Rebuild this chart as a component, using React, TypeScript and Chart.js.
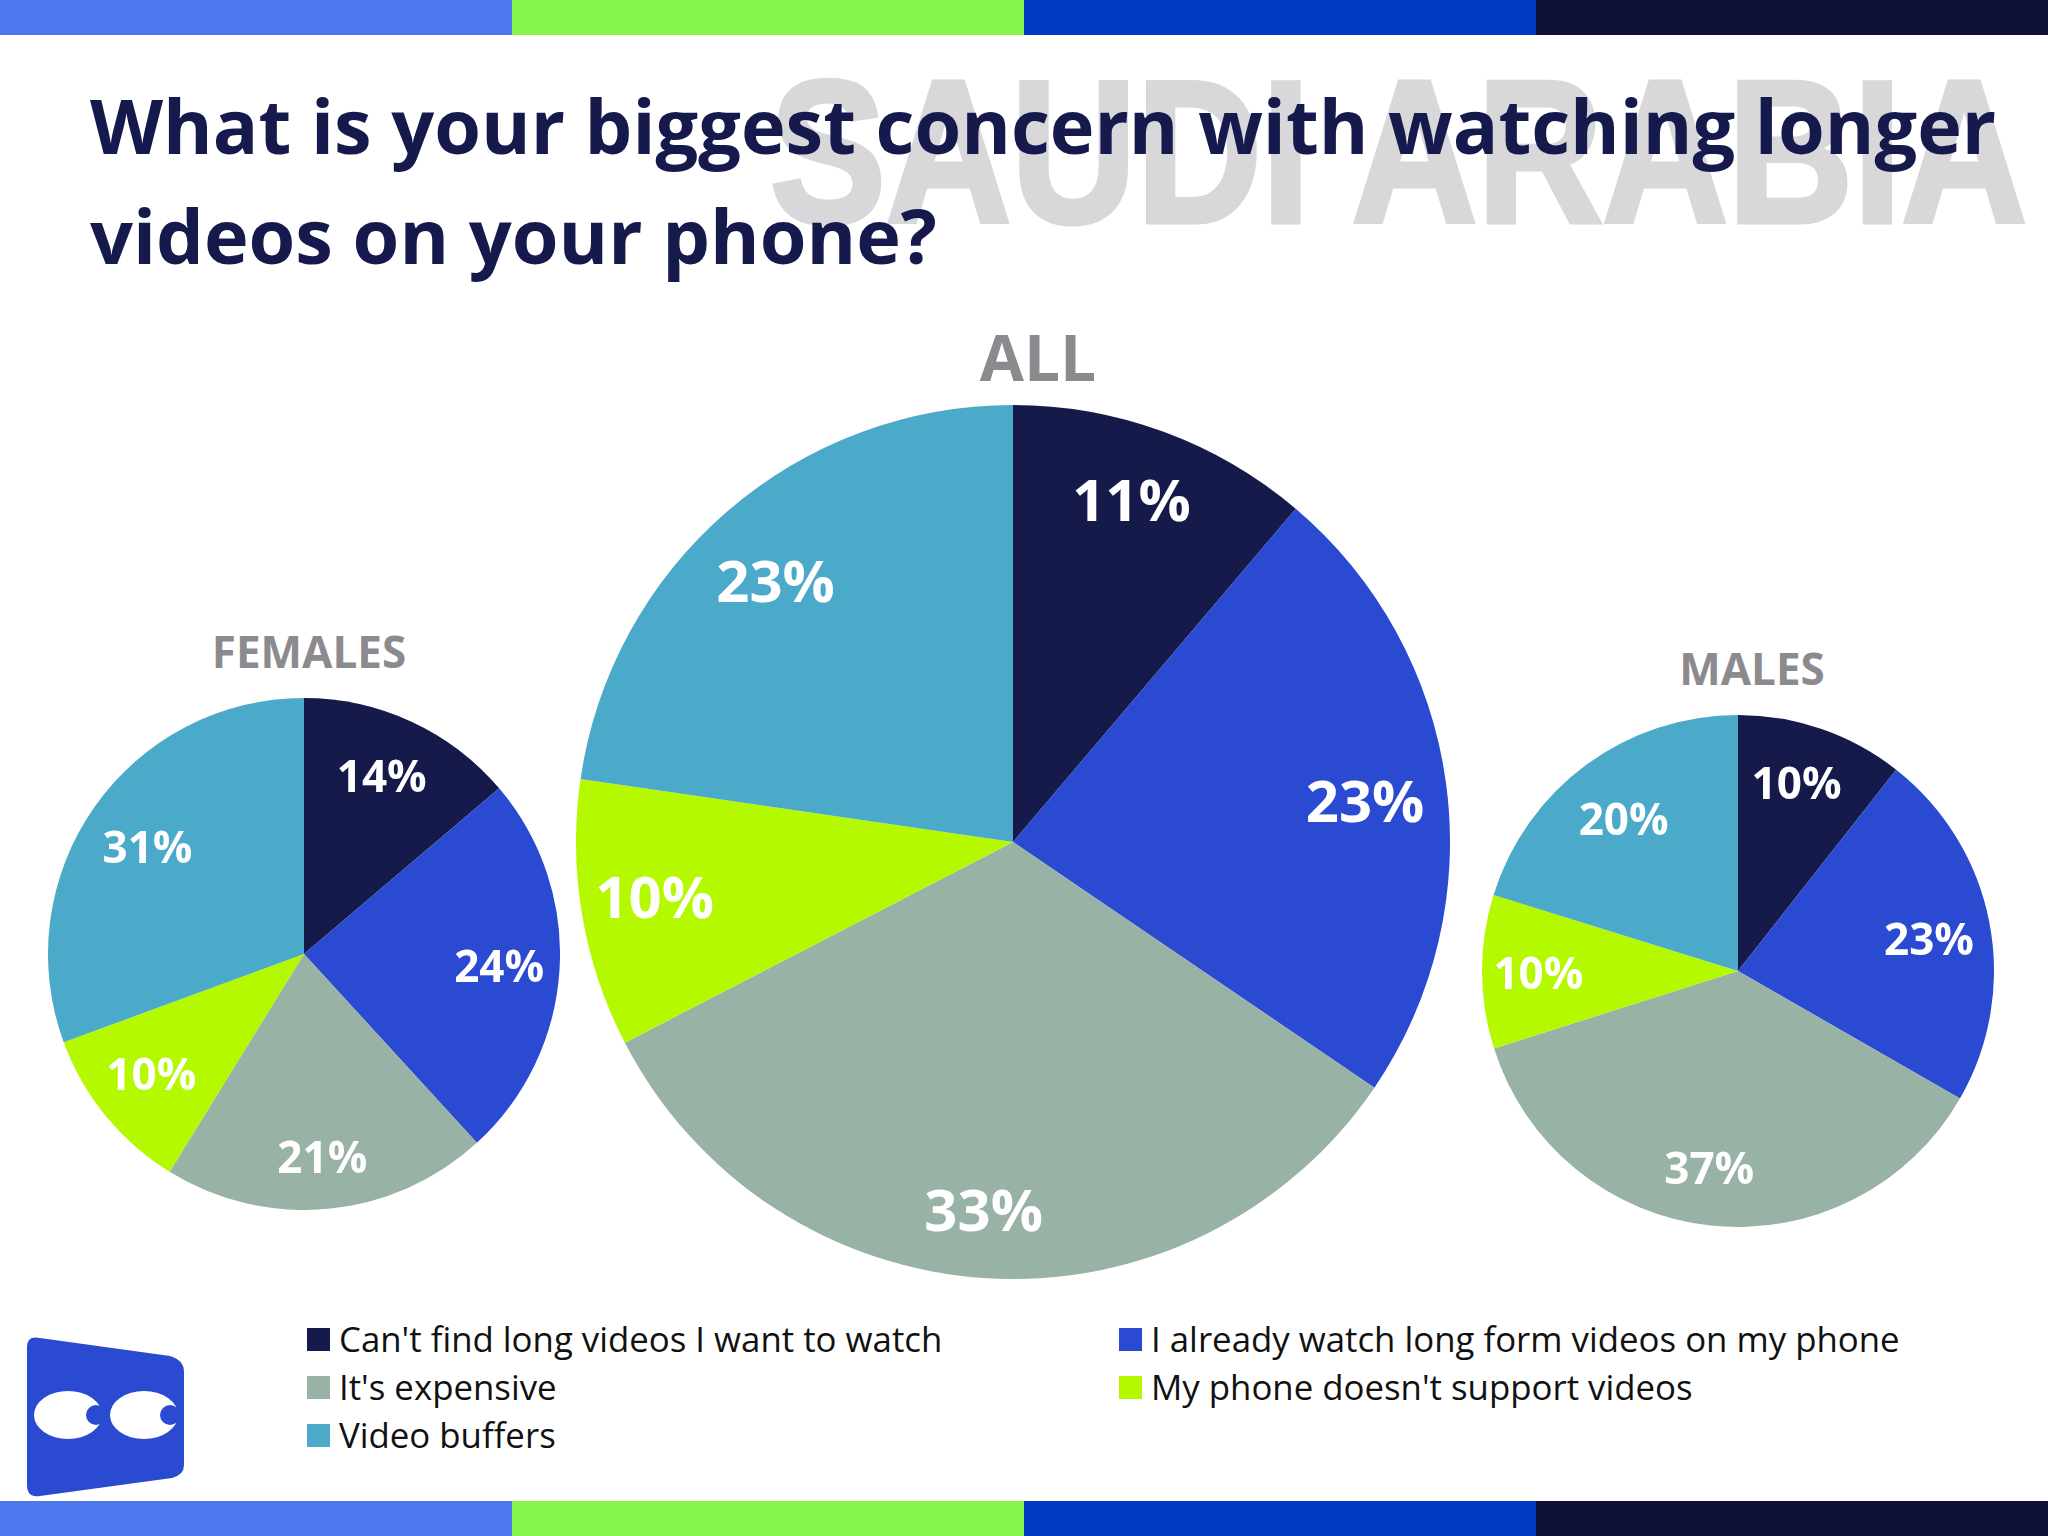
import React, { useEffect, useRef } from "react";
import { Chart, registerables } from "chart.js";

Chart.register(...registerables);

const categories = [
  "Can't find long videos I want to watch",
  "I already watch long form videos on my phone",
  "It's expensive",
  "My phone doesn't support videos",
  "Video buffers",
];
const sliceColors = ["#161a4b", "#2a4bd1", "#98b3a5", "#b5f900", "#4ba9c9"];

// slice sizes, printed labels kept apart since they don't always agree
const allValues = [11.2, 23.3, 32.9, 9.9, 22.7];
const femaleValues = [13.8, 24.4, 20.6, 10.6, 30.6];
const maleValues = [10.6, 22.7, 36.8, 9.7, 20.2];
const allLabels = ["11%", "23%", "33%", "10%", "23%"];
const femaleLabels = ["14%", "24%", "21%", "10%", "31%"];
const maleLabels = ["10%", "23%", "37%", "10%", "20%"];

const barColors = ["#4f77ee", "#88f74b", "#0039c4", "#0f1238"];
const fontName = "'Open Sans', sans-serif";

// hand placement of the labels, px away from the default spot on the slice
const allNudge = [[-5, -1], [-3, 12], [-8, 15], [-5, 0], [-3, 15]];
const femaleNudge = [[-4, 2], [1, 3], [0, 13], [-2, 0], [3, 8]];
const maleNudge = [[-5, -1], [0, 9], [-8, 7], [-5, 5], [1, 8]];

// writes the percent label on each slice, labelAt = fraction of the radius
const sliceLabels = {
  id: "sliceLabels",
  afterDatasetsDraw(chart: any, _args: any, opts: any) {
    const { ctx } = chart;
    ctx.save();
    ctx.fillStyle = "#ffffff";
    ctx.font = `bold ${opts.size}px ${fontName}`;
    ctx.textAlign = "center";
    ctx.textBaseline = "middle";
    chart.getDatasetMeta(0).data.forEach((arc: any, i: number) => {
      const { x, y, startAngle, endAngle, outerRadius } = arc.getProps(
        ["x", "y", "startAngle", "endAngle", "outerRadius"],
        true
      );
      const mid = (startAngle + endAngle) / 2;
      const r = outerRadius * opts.labelAt;
      const [nx, ny] = opts.nudge[i];
      ctx.fillText(opts.labels[i], x + Math.cos(mid) * r + nx, y + Math.sin(mid) * r + ny);
    });
    ctx.restore();
  },
};

type PieProps = {
  values: number[];
  labels: string[];
  nudge: number[][];
  cx: number;
  cy: number;
  radius: number;
  size: number;
  labelAt: number;
};

function Pie({ values, labels, nudge, cx, cy, radius, size, labelAt }: PieProps) {
  const canvasRef = useRef<HTMLCanvasElement>(null);

  useEffect(() => {
    if (!canvasRef.current) return;
    const chart = new Chart(canvasRef.current, {
      type: "pie",
      data: {
        labels: categories,
        datasets: [{ data: values, backgroundColor: sliceColors, borderWidth: 0 }],
      },
      options: {
        animation: false,
        responsive: false,
        devicePixelRatio: 1,
        events: [],
        layout: { padding: 0 },
        plugins: {
          legend: { display: false },
          tooltip: { enabled: false },
          sliceLabels: { labels, nudge, size, labelAt },
        } as any,
      },
      plugins: [sliceLabels],
    });
    return () => chart.destroy();
  }, []);

  return (
    <canvas
      ref={canvasRef}
      width={radius * 2}
      height={radius * 2}
      style={{ position: "absolute", left: cx - radius, top: cy - radius }}
    />
  );
}

function Bar({ top }: { top: number }) {
  return (
    <>
      {barColors.map((c, i) => (
        <div
          key={c}
          style={{ position: "absolute", left: i * 512, top, width: 512, height: 35, background: c }}
        />
      ))}
    </>
  );
}

function PieTitle({ text, x, y, size }: { text: string; x: number; y: number; size: number }) {
  return (
    <div
      style={{
        position: "absolute",
        left: x - 200,
        top: y - size,
        width: 400,
        height: size * 2,
        lineHeight: `${size * 2}px`,
        textAlign: "center",
        fontWeight: 700,
        fontSize: size,
        color: "#8c8a8e",
      }}
    >
      {text}
    </div>
  );
}

function Logo() {
  return (
    <svg style={{ position: "absolute", left: 0, top: 1320 }} width={200} height={190}>
      <path
        d="M27 27 Q27 15 40 18 L170 36 Q184 40 184 52 L184 145 Q184 155 172 158 L40 176 Q27 178 27 165 Z"
        fill="#2a4bd1"
      />
      <ellipse cx={68} cy={95} rx={34} ry={24} fill="#fff" />
      <ellipse cx={144} cy={95} rx={34} ry={24} fill="#fff" />
      <circle cx={96} cy={95} r={10} fill="#2a4bd1" />
      <circle cx={170} cy={95} r={10} fill="#2a4bd1" />
    </svg>
  );
}

// two columns, reading across
const legendSpots = [
  [307, 1328],
  [1119, 1328],
  [307, 1376],
  [1119, 1376],
  [307, 1424],
];

export default function App() {
  return (
    <div
      style={{
        position: "absolute",
        left: 0,
        top: 0,
        width: 2048,
        height: 1536,
        overflow: "hidden",
        background: "#fff",
        fontFamily: fontName,
      }}
    >
      <Bar top={0} />
      <Bar top={1501} />

      <div
        style={{
          position: "absolute",
          left: 770,
          top: 37,
          fontFamily: "'Liberation Sans', sans-serif",
          fontWeight: 700,
          fontSize: 203,
          lineHeight: "230px",
          whiteSpace: "nowrap",
          color: "#d8d8db",
          WebkitTextStroke: "5px #d8d8db",
          transformOrigin: "0 0",
          transform: "scaleX(0.855)",
        }}
      >
        SAUDI ARABIA
      </div>

      <div
        style={{
          position: "absolute",
          left: 90,
          top: 70,
          fontWeight: 700,
          fontSize: 75.6,
          lineHeight: "110px",
          whiteSpace: "nowrap",
          color: "#15194b",
        }}
      >
        What is your biggest concern with watching longer
        <br />
        videos on your phone?
      </div>

      <PieTitle text="ALL" x={1038} y={357} size={64} />
      <PieTitle text="FEMALES" x={309} y={651} size={44} />
      <PieTitle text="MALES" x={1752} y={668} size={44} />

      <Pie values={allValues} labels={allLabels} nudge={allNudge} cx={1013} cy={842} radius={437} size={58} labelAt={0.82} />
      <Pie values={femaleValues} labels={femaleLabels} nudge={femaleNudge} cx={304} cy={954} radius={256} size={44} labelAt={0.76} />
      <Pie values={maleValues} labels={maleLabels} nudge={maleNudge} cx={1738} cy={971} radius={256} size={44} labelAt={0.76} />

      {categories.map((name, i) => (
        <React.Fragment key={name}>
          <div
            style={{
              position: "absolute",
              left: legendSpots[i][0],
              top: legendSpots[i][1],
              width: 23,
              height: 23,
              background: sliceColors[i],
            }}
          />
          <div
            style={{
              position: "absolute",
              left: legendSpots[i][0] + 32,
              top: legendSpots[i][1] - 13,
              fontSize: 34.8,
              lineHeight: "48px",
              whiteSpace: "nowrap",
              color: "#111",
            }}
          >
            {name}
          </div>
        </React.Fragment>
      ))}

      <Logo />
    </div>
  );
}
